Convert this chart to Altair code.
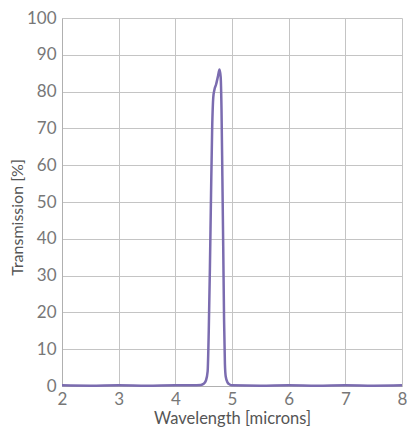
import altair as alt
import pandas as pd

wavelength = [2.0, 2.5, 3.0, 3.5, 4.0, 4.3, 4.45, 4.50, 4.54, 4.57, 4.59, 4.61, 4.63, 4.65,
              4.67, 4.69, 4.72, 4.75, 4.78, 4.80, 4.815, 4.83, 4.845, 4.86, 4.875, 4.89,
              4.92, 4.96, 5.0, 5.5, 6.0, 6.5, 7.0, 7.5, 8.0]
transmission = [0.2, 0.1, 0.2, 0.1, 0.2, 0.2, 0.3, 0.6, 1.5, 4, 15, 32, 52, 70,
                78.5, 80.5, 82, 84, 86, 84, 75, 57, 38, 18, 6, 2.5,
                1, 0.4, 0.2, 0.1, 0.2, 0.1, 0.2, 0.1, 0.2]

df = pd.DataFrame({"w": wavelength, "t": transmission})

font = "Lato"
chart = alt.Chart(df).mark_line(color="#7b6cb0", strokeWidth=2.5, interpolate="monotone").encode(
    x=alt.X("w:Q", scale=alt.Scale(domain=[2, 8], nice=False, zero=False),
            axis=alt.Axis(title="Wavelength [microns]", values=[2, 3, 4, 5, 6, 7, 8],
                          ticks=False, labelFontSize=17, titleFontSize=16.5, labelPadding=5,
                          titlePadding=3, labelColor="#777", titleColor="#555",
                          titleFontWeight="normal", labelFont=font, titleFont=font,
                          gridColor="#c4c4c4", domainColor="#b0b0b0", labelFlush=False)),
    y=alt.Y("t:Q", scale=alt.Scale(domain=[0, 100], nice=False),
            axis=alt.Axis(title="Transmission [%]", values=list(range(0, 101, 10)),
                          ticks=False, labelFontSize=17, titleFontSize=16, labelPadding=6,
                          titleX=-37, titleY=199, titleBaseline="bottom", titleAlign="center",
                          titleAngle=270,
                          labelColor="#777", titleColor="#555",
                          titleFontWeight="normal", labelFont=font, titleFont=font,
                          gridColor="#c4c4c4", domainColor="#b0b0b0")),
).properties(
    width=340, height=368,
    autosize=alt.AutoSizeParams(type="none"),
    padding={"left": 54, "top": 10, "right": 5, "bottom": 45},
).configure_view(stroke=None)

chart.save("out.html", embed_options={"renderer": "svg", "actions": False})
